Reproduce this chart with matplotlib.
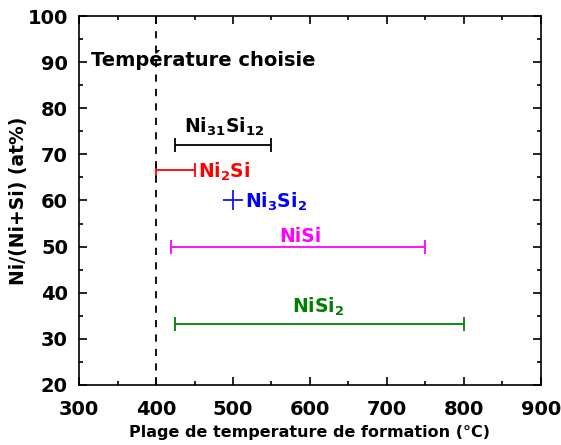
import matplotlib.pyplot as plt
from matplotlib.ticker import MultipleLocator

plt.rcParams['font.family'] = ['DejaVu Sans']
plt.rcParams['font.weight'] = 'bold'
plt.rcParams['mathtext.default'] = 'bf'

# phases: formation temperature range (start, end) and Ni content (at%)
phases = ["Ni31Si12", "Ni2Si", "Ni3Si2", "NiSi", "NiSi2"]
t_start = [425, 400, 500, 420, 425]
t_end = [550, 450, 500, 750, 800]
ni_at = [72.1, 66.7, 60.0, 50.0, 33.3]
colors = ["black", "red", "blue", "magenta", "green"]
labels = [r"Ni$_{\mathbf{31}}$Si$_{\mathbf{12}}$", r"Ni$_{\mathbf{2}}$Si",
          r"Ni$_{\mathbf{3}}$Si$_{\mathbf{2}}$", "NiSi", r"NiSi$_{\mathbf{2}}$"]
label_x = [488, 454, 516, 588, 610]
label_y = [74.6, 64.9, 58.4, 51.0, 35.6]
label_ha = ["center", "left", "left", "center", "center"]

chosen_temp = 400

fig = plt.figure(figsize=(5.61, 4.45), dpi=100)
ax = fig.add_axes([0.141, 0.135, 0.823, 0.829])

for i in range(len(phases)):
    c = colors[i]
    if t_start[i] == t_end[i]:
        ax.plot(t_start[i], ni_at[i], marker='+', color=c, markersize=15, mew=1.2)
    else:
        mid = (t_start[i] + t_end[i]) / 2
        half = (t_end[i] - t_start[i]) / 2
        ax.errorbar(mid, ni_at[i], xerr=half, color=c, capsize=5, elinewidth=1.3,
                    capthick=1.3, fmt='none')
    ax.text(label_x[i], label_y[i], labels[i], color=c, fontsize=13.5, fontweight='bold',
            ha=label_ha[i], va='baseline')

ax.axvline(chosen_temp, color='black', linestyle=(0, (4, 4)), linewidth=1.3)
ax.text(315, 90.5, "Température choisie", fontsize=14, fontweight='bold', va='center')

ax.set_xlim(300, 900)
ax.set_ylim(20, 100)
ax.xaxis.set_major_locator(MultipleLocator(100))
ax.xaxis.set_minor_locator(MultipleLocator(50))
ax.yaxis.set_major_locator(MultipleLocator(10))
ax.yaxis.set_minor_locator(MultipleLocator(5))
ax.tick_params(which='both', direction='in', top=True, right=True, width=1.2)
ax.tick_params(which='major', length=6, labelsize=14)
ax.tick_params(which='minor', length=3)
ax.tick_params(axis='x', which='major', pad=11)
ax.tick_params(axis='y', which='major', pad=8)
for lab in ax.get_xticklabels() + ax.get_yticklabels():
    lab.set_fontweight('bold')
for sp in ax.spines.values():
    sp.set_linewidth(1.2)

ax.set_xlabel("Plage de temperature de formation (°C)", fontsize=11.5, fontweight='bold', labelpad=4)
ax.set_ylabel("Ni/(Ni+Si) (at%)", fontsize=13.5, fontweight='bold', labelpad=0)

fig.savefig("out.png", dpi=100)
